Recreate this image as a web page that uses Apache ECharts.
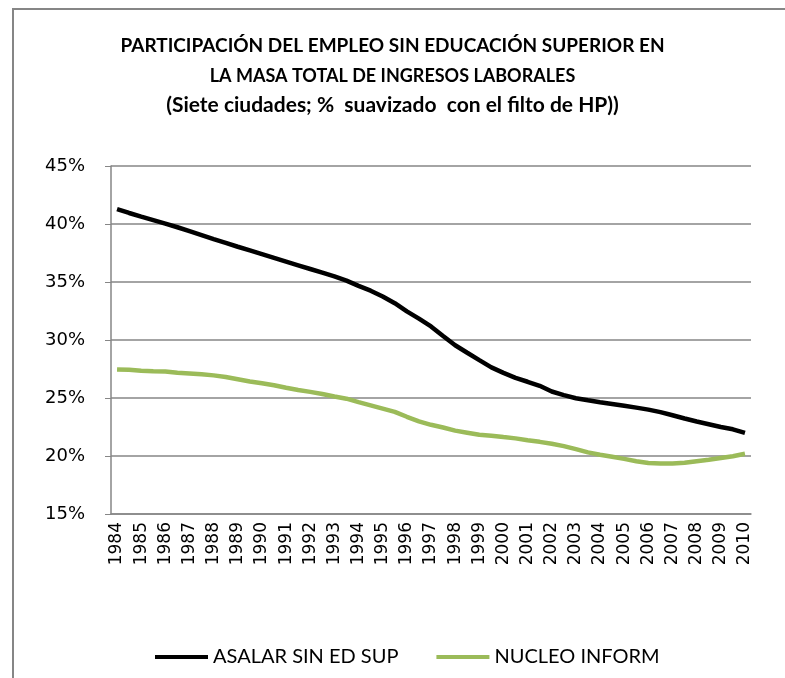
<!DOCTYPE html>
<html>
<head>
<meta charset="utf-8">
<script src="https://cdn.jsdelivr.net/npm/echarts@6/dist/echarts.min.js"></script>
<style>
  html, body { margin: 0; padding: 0; background: #fff; }
  #chart { width: 785px; height: 678px; }
</style>
</head>
<body>
<div id="chart"></div>
<script>
// semestral points, 1984-I .. 2010-I
const years = [1984, 1985, 1986, 1987, 1988, 1989, 1990, 1991, 1992, 1993, 1994, 1995, 1996,
  1997, 1998, 1999, 2000, 2001, 2002, 2003, 2004, 2005, 2006, 2007, 2008, 2009, 2010]

const asalar = [41.28, 40.95, 40.63, 40.33, 40.03, 39.72, 39.38, 39.04, 38.70, 38.37,
  38.04, 37.72, 37.40, 37.08, 36.76, 36.44, 36.12, 35.80, 35.48, 35.12,
  34.67, 34.25, 33.75, 33.17, 32.47, 31.84, 31.17, 30.35, 29.55, 28.90,
  28.26, 27.64, 27.17, 26.74, 26.40, 26.05, 25.56, 25.25, 24.98, 24.80,
  24.64, 24.49, 24.33, 24.17, 24.00, 23.78, 23.51, 23.23, 22.97, 22.74,
  22.50, 22.30, 22.00]

const nucleo = [27.46, 27.43, 27.35, 27.30, 27.28, 27.18, 27.12, 27.04, 26.95, 26.81,
  26.62, 26.43, 26.27, 26.10, 25.89, 25.69, 25.53, 25.35, 25.13, 24.94,
  24.64, 24.37, 24.09, 23.81, 23.38, 22.99, 22.69, 22.46, 22.19, 22.01,
  21.83, 21.75, 21.63, 21.52, 21.36, 21.22, 21.05, 20.85, 20.59, 20.31,
  20.11, 19.94, 19.75, 19.55, 19.40, 19.36, 19.36, 19.41, 19.55, 19.68,
  19.83, 19.98, 20.20]

const titleLines = [
  'PARTICIPACIÓN DEL EMPLEO SIN EDUCACIÓN SUPERIOR EN',
  'LA MASA TOTAL DE INGRESOS LABORALES',
  '(Siete ciudades; %  suavizado  con el filto de HP))'
]

const categories = years.flatMap(y => [String(y), String(y)]).slice(0, asalar.length)

const gray = '#868686'
const chart = echarts.init(document.getElementById('chart'), null, { renderer: 'canvas' })

chart.setOption({
  backgroundColor: '#fff',
  animation: false,
  graphic: [{
    type: 'rect',
    shape: { x: 13, y: 9, width: 800, height: 700 },
    style: { fill: 'none', stroke: gray, lineWidth: 2 },
    silent: true
  }],
  title: {
    text: '{a|' + titleLines[0] + '}\n{b|' + titleLines[1] + '}\n{c|' + titleLines[2] + '}',
    left: 'center',
    top: 26,
    textStyle: {
      fontFamily: 'Lato',
      fontWeight: 'bold',
      color: '#000',
      rich: {
        a: { fontFamily: 'Lato', fontWeight: 'bold', fontSize: 19, lineHeight: 30, color: '#000' },
        b: { fontFamily: 'Lato', fontWeight: 'bold', fontSize: 18, lineHeight: 30, color: '#000' },
        c: { fontFamily: 'Lato', fontWeight: 'bold', fontSize: 21, lineHeight: 28, color: '#000' }
      }
    }
  },
  legend: {
    bottom: 6,
    left: 150,
    icon: 'rect',
    itemWidth: 53,
    itemHeight: 4,
    itemGap: 38,
    textStyle: { fontFamily: 'Lato', fontSize: 20, color: '#000' },
    data: ['ASALAR SIN ED SUP', 'NUCLEO INFORM']
  },
  grid: { left: 111, right: 34, top: 166, bottom: 164 },
  xAxis: {
    type: 'category',
    data: categories,
    boundaryGap: true,
    axisLine: { lineStyle: { color: gray, width: 1.5 } },
    axisTick: { interval: 1, length: 6, lineStyle: { color: gray } },
    axisLabel: {
      interval: 1,
      rotate: 90,
      margin: 8,
      fontFamily: 'DejaVu Sans',
      fontSize: 17,
      color: '#000'
    },
    splitLine: { show: false }
  },
  yAxis: {
    type: 'value',
    min: 15,
    max: 45,
    interval: 5,
    axisLine: { show: true, lineStyle: { color: gray, width: 1.5 } },
    axisTick: { show: true, length: 6, lineStyle: { color: gray } },
    axisLabel: {
      formatter: '{value}%',
      margin: 26,
      fontFamily: 'DejaVu Sans',
      fontSize: 18,
      color: '#000'
    },
    splitLine: { lineStyle: { color: gray, width: 1.5 } }
  },
  series: [
    {
      name: 'ASALAR SIN ED SUP',
      type: 'line',
      data: asalar,
      showSymbol: false,
      color: '#000',
      lineStyle: { color: '#000', width: 4.5 }
    },
    {
      name: 'NUCLEO INFORM',
      type: 'line',
      data: nucleo,
      showSymbol: false,
      color: '#9BBB59',
      lineStyle: { color: '#9BBB59', width: 4.5 }
    }
  ]
})

window.addEventListener('resize', () => chart.resize())
</script>
</body>
</html>
